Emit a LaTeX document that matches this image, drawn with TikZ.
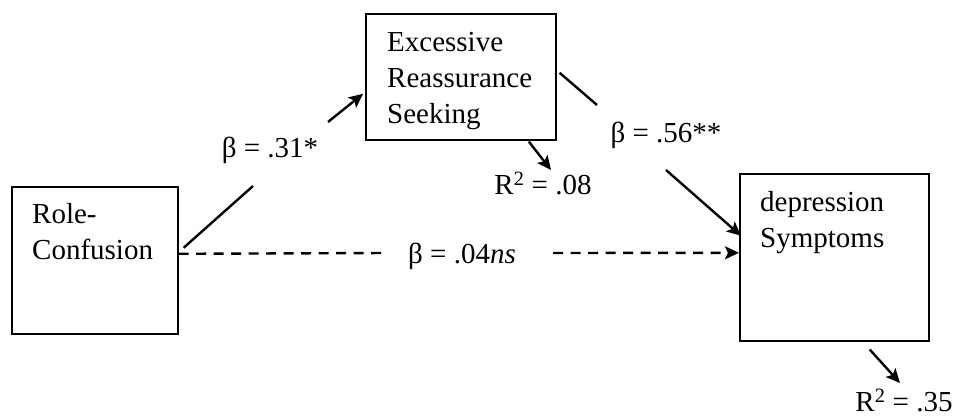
\documentclass[tikz,border=0pt]{standalone}
\usepackage{fontspec}
\setmainfont{Liberation Serif}
\usetikzlibrary{arrows.meta,positioning}

\begin{document}
\begin{tikzpicture}[x=1pt, y=-1pt,
      box/.style={draw, line width=1.6pt, anchor=north west, inner sep=0pt},
      txt/.style={align=left, inner sep=0pt, font=\fontsize{29}{36}\selectfont},
      lbl/.style={inner sep=0pt, font=\fontsize{29}{36}\selectfont},
      link/.style={line width=2.4pt},
      arr/.style={link, -{Stealth[length=14pt, width=13pt, inset=3pt]}},
      dashlink/.style={arr, dash pattern=on 10pt off 7.5pt}
    ]
    \useasboundingbox (0,0) rectangle (956,419);

    \node[box, minimum width=166pt, minimum height=147pt] (rc) at (11,186) {};
    \node[box, minimum width=190pt, minimum height=126pt] (ers) at (365,13) {};
    \node[box, minimum width=189pt, minimum height=167pt] (ds) at (739,173) {};

    \node[txt, below right=17pt and 21pt of rc.north west] (rctext) {Role-\\Confusion};
    \node[txt, below right=19pt and 22pt of ers.north west] (erstext) {Excessive\\Reassurance\\Seeking};
    \node[txt, below right=18pt and 21pt of ds.north west] (dstext) {depression\\Symptoms};

    \node[lbl, anchor=base] (b31) at (270,158) {β = .31*};
    \node[lbl, anchor=base] (b56) at (666,143) {β = .56**};
    \node[lbl, anchor=base] (b04) at (462,264) {β = .04\textit{ns}};
    \node[lbl, anchor=base] (r08) at (543,195) {R\textsuperscript{2} = .08};
    \node[lbl, anchor=base] (r35) at (904,412) {R\textsuperscript{2} = .35};

    \coordinate (c1) at (253,186);
    \coordinate (c2) at (328,122);
    \coordinate (c3) at (597,105);
    \coordinate (c4) at (666,170);
    \coordinate (c5) at (388,253);
    \coordinate (c6) at (553,253);
    \coordinate (t08) at (551,170);
    \coordinate (t35) at (900,383);

    \draw[link] ([shift={(5,-12.5)}]rc.east) -- (c1);
    \draw[arr] (c2) -- ([shift={(-2,17)}]ers.west);
    \draw[link] ([shift={(3,-4)}]ers.east) -- (c3);
    \draw[arr] (c4) -- ([shift={(2,-21.5)}]ds.west);
    \draw[dashlink, -] ([yshift=6.5pt]rc.east) -- (c5);
    \draw[dashlink] (c6) -- ([yshift=4.5pt]ds.west);
    \draw[arr] ([shift={(68,1)}]ers.south) -- (t08);
    \draw[arr] ([shift={(35.5,8)}]ds.south) -- (t35);
  \end{tikzpicture}
\end{document}
